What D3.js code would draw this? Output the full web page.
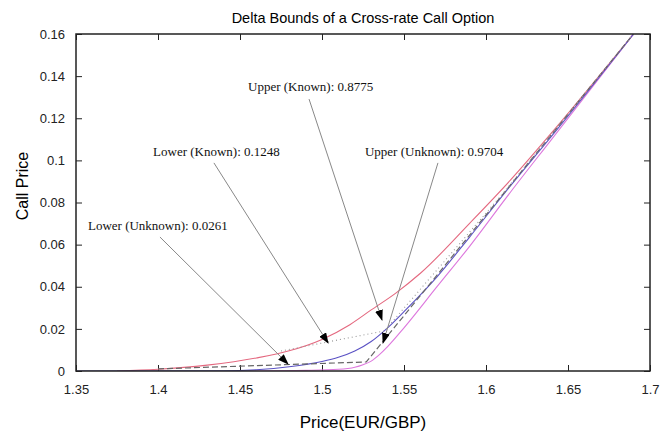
<html>
  <head>
	<meta charset="utf-8">
	<title>Delta Bounds of a Cross-rate Call Option</title>
	<script src="https://d3js.org/d3.v7.min.js"></script>
	<style>
	  body { margin: 0; background: #fff; }
	  text { font-family: "Liberation Sans", Arial, sans-serif; }
	  .note { font-family: "Liberation Serif", "Times New Roman", serif; font-size: 13px; }
	</style>
  </head>
  <body>

  <svg width="671" height="433"></svg>

	<script type="text/javascript">

    // ticks
    var xTicks = [1.35, 1.4, 1.45, 1.5, 1.55, 1.6, 1.65, 1.7];
    var yTicks = [0, 0.02, 0.04, 0.06, 0.08, 0.1, 0.12, 0.14, 0.16];

    // curves: [price, call price]
    var upperCurve = [[1.375,0],[1.40,0.0008],[1.43,0.0028],[1.46,0.0062],[1.48,0.0096],[1.50,0.0150],
        [1.517,0.0220],[1.53,0.0290],[1.545,0.0370],[1.56,0.0464],[1.59,0.0701],[1.615,0.0907],
        [1.641,0.1140],[1.692,0.1620]];
    var knownCurve = [[1.35,0],[1.44,0.0001],[1.46,0.0006],[1.48,0.0020],[1.50,0.0045],[1.51,0.0065],
        [1.52,0.0095],[1.53,0.0140],[1.54,0.0205],[1.55,0.0282],[1.57,0.0446],[1.59,0.0636],
        [1.615,0.0880],[1.64,0.1115],[1.692,0.1620]];
    var payoffCurve = [[1.455,0],[1.49,0.0003],[1.51,0.0008],[1.52,0.0018],[1.525,0.0030],[1.53,0.0047],
        [1.535,0.0078],[1.54,0.0116],[1.55,0.0205],[1.57,0.0399],[1.59,0.0592],[1.615,0.0850],
        [1.64,0.1100],[1.692,0.1620]];
    // piecewise bounds
    var unknownBound = [[1.40,0.0010],[1.527,0.0043],[1.692,0.1620]];
    var knownBound = [[1.475,0.0095],[1.538,0.0190],[1.61,0.0840],[1.692,0.1620]];

    // annotations: label, text position, arrow start, arrow tip (data units)
    var notes = [
        {label:"Upper (Known): 0.8775",   text:[1.4549,0.1329], from:[1.4921,0.1291], to:[1.5366,0.0242]},
        {label:"Lower (Known): 0.1248",   text:[1.3970,0.1021], from:[1.4341,0.0988], to:[1.5037,0.0133]},
        {label:"Upper (Unknown): 0.9704", text:[1.5262,0.1021], from:[1.5707,0.0988], to:[1.5372,0.0133]},
        {label:"Lower (Unknown): 0.0261", text:[1.3573,0.0669], from:[1.4012,0.0636], to:[1.4793,0.0033]}
    ];

    var margin = {top: 34, right: 21, bottom: 62, left: 76};
    var width = 671 - margin.left - margin.right;
    var height = 433 - margin.top - margin.bottom;

    var escalaX = d3.scaleLinear().domain([1.35, 1.7]).range([0, width]);
    var escalaY = d3.scaleLinear().domain([0, 0.16]).range([height, 0]);

    var svg = d3.select("svg");

    svg.append("defs").append("marker")
        .attr("id", "seta")
        .attr("markerUnits", "userSpaceOnUse")
        .attr("markerWidth", 11).attr("markerHeight", 8)
        .attr("refX", 10).attr("refY", 4)
        .attr("orient", "auto")
        .append("path").attr("d", "M0,0 L11,4 L0,8 Z").attr("fill", "#000");

    svg.append("defs").append("clipPath").attr("id", "area")
        .append("rect").attr("width", width).attr("height", height);

    var mySVG = svg.append("g")
        .attr("transform", "translate(" + margin.left + "," + margin.top + ")");

    // title and axis labels
    svg.append("text").attr("x", margin.left + width / 2).attr("y", 23)
        .attr("text-anchor", "middle").attr("font-size", 14.5).text("Delta Bounds of a Cross-rate Call Option");
    svg.append("text").attr("x", margin.left + width / 2).attr("y", 428)
        .attr("text-anchor", "middle").attr("font-size", 17).text("Price(EUR/GBP)");
    svg.append("text").attr("transform", "translate(28," + (margin.top + 152) + ") rotate(-90)")
        .attr("text-anchor", "middle").attr("font-size", 16).text("Call Price");

    // axes with inward ticks, mirrored
    var fmt = d => String(+d.toFixed(2));
    var eixoX = mySVG.append("g").attr("transform", "translate(0," + height + ")")
        .call(d3.axisBottom(escalaX).tickValues(xTicks).tickFormat(fmt).tickSizeInner(-6).tickSizeOuter(0).tickPadding(14));
    var eixoXTop = mySVG.append("g")
        .call(d3.axisTop(escalaX).tickValues(xTicks).tickFormat("").tickSizeInner(-6).tickSizeOuter(0));
    var eixoY = mySVG.append("g")
        .call(d3.axisLeft(escalaY).tickValues(yTicks).tickFormat(fmt).tickSizeInner(-6).tickSizeOuter(0).tickPadding(11));
    var eixoYRight = mySVG.append("g").attr("transform", "translate(" + width + ",0)")
        .call(d3.axisRight(escalaY).tickValues(yTicks).tickFormat("").tickSizeInner(-6).tickSizeOuter(0));

    [eixoX, eixoXTop, eixoY, eixoYRight].forEach(function(g) {
        g.select(".domain").remove();
        g.selectAll("line").attr("stroke", "#222");
        g.selectAll("text").attr("font-size", 13).attr("fill", "#222")
            .attr("font-family", "'Liberation Sans', Arial, sans-serif");
    });

    // curves
    var linha = d3.line().x(d => escalaX(d[0])).y(d => escalaY(d[1]));
    var curva = d3.line().x(d => escalaX(d[0])).y(d => escalaY(d[1])).curve(d3.curveMonotoneX);

    var plot = mySVG.append("g").attr("clip-path", "url(#area)");

    plot.append("path").datum(upperCurve).attr("d", curva)
        .attr("fill", "none").attr("stroke", "#e4687f").attr("stroke-width", 1.1);
    plot.append("path").datum(payoffCurve).attr("d", curva)
        .attr("fill", "none").attr("stroke", "#dd77dd").attr("stroke-width", 1.1);
    plot.append("path").datum(knownCurve).attr("d", curva)
        .attr("fill", "none").attr("stroke", "#5b52c4").attr("stroke-width", 1.1);
    plot.append("path").datum(unknownBound).attr("d", linha)
        .attr("fill", "none").attr("stroke", "#666").attr("stroke-width", 1.2).attr("stroke-dasharray", "6,3");
    plot.append("path").datum(knownBound).attr("d", linha)
        .attr("fill", "none").attr("stroke", "#999").attr("stroke-width", 1.1).attr("stroke-dasharray", "1,3");

    // annotations
    mySVG.selectAll("line.seta").data(notes).enter().append("line")
        .attr("class", "seta")
        .attr("x1", d => escalaX(d.from[0])).attr("y1", d => escalaY(d.from[1]))
        .attr("x2", d => escalaX(d.to[0])).attr("y2", d => escalaY(d.to[1]))
        .attr("stroke", "#888").attr("stroke-width", 1)
        .attr("marker-end", "url(#seta)");

    mySVG.selectAll("text.note").data(notes).enter().append("text")
        .attr("class", "note")
        .attr("x", d => escalaX(d.text[0])).attr("y", d => escalaY(d.text[1]))
        .attr("fill", "#111")
        .text(d => d.label);

    // frame
    mySVG.append("rect").attr("width", width).attr("height", height)
        .attr("fill", "none").attr("stroke", "#222").attr("stroke-width", 1.5);

	</script>
  </body>

</html>
